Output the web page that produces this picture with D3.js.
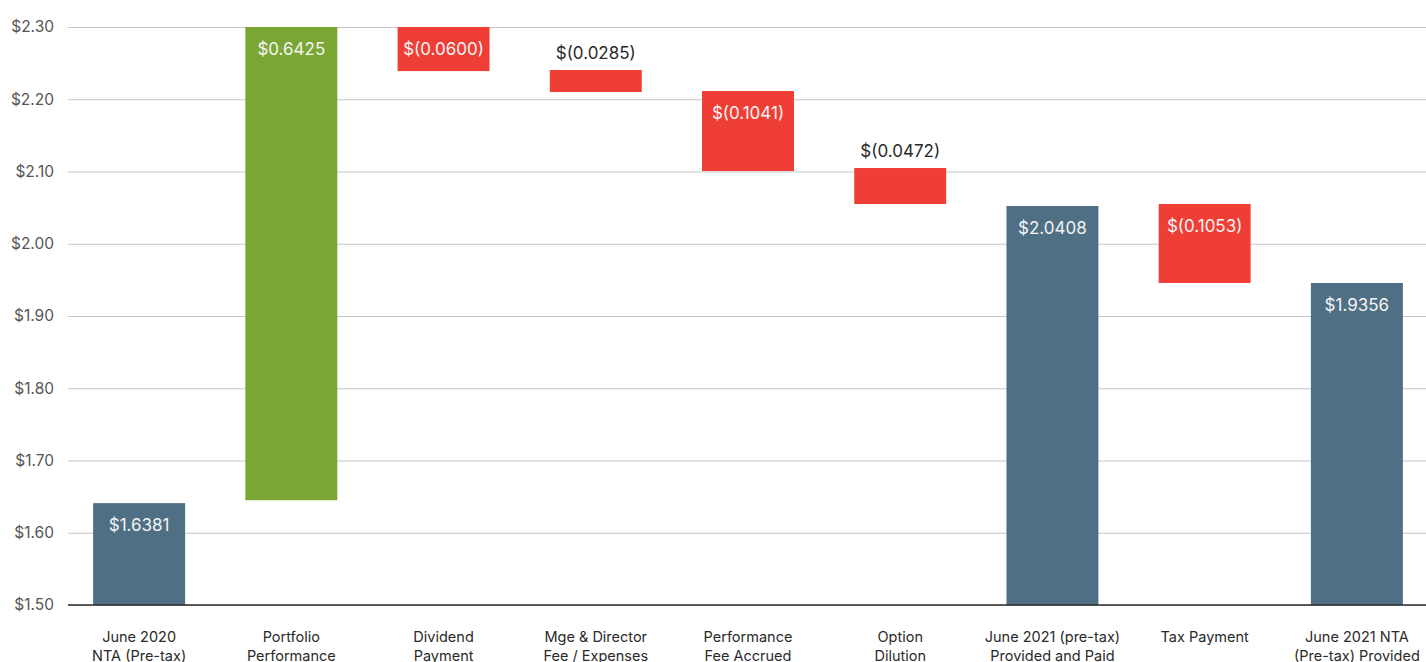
<!DOCTYPE html>
<html>
<head>
<meta charset="utf-8">
<script src="https://cdn.jsdelivr.net/npm/d3@7"></script>
<style>
  body { margin: 0; background: #fff; overflow: hidden; }
  svg { display: block; font-family: Inter, "Open Sans", sans-serif; }
</style>
</head>
<body>
<div id="chart"></div>
<script>
const width = 1426;
const height = 662;

// categories (two-line axis labels)
const categories = [
  ["June 2020", "NTA (Pre-tax)"],
  ["Portfolio", "Performance"],
  ["Dividend", "Payment"],
  ["Mge & Director", "Fee / Expenses"],
  ["Performance", "Fee Accrued"],
  ["Option", "Dilution"],
  ["June 2021 (pre-tax)", "Provided and Paid"],
  ["Tax Payment"],
  ["June 2021 NTA", "(Pre-tax) Provided"]
];
const valueLabels = ["$1.6381", "$0.6425", "$(0.0600)", "$(0.0285)", "$(0.1041)",
  "$(0.0472)", "$2.0408", "$(0.1053)", "$1.9356"];
// bar extents as drawn in the picture
const barFrom = [1.50, 1.645, 2.30, 2.2405, 2.2114, 2.1048, 1.50, 2.055, 1.50];
const barTo   = [1.641, 2.30, 2.239, 2.210, 2.1007, 2.055, 2.0523, 1.9457, 1.9457];
const barKind = ["total", "up", "down", "down", "down", "down", "total", "down", "total"];
const yTicks = [1.5, 1.6, 1.7, 1.8, 1.9, 2.0, 2.1, 2.2, 2.3];

const colors = { total: "#4f6f84", up: "#7aa734", down: "#ef3e36" };

const margin = { top: 27, left: 63, bottom: 57 };

const svg = d3.select("#chart")
  .append("svg")
  .attr("width", width)
  .attr("height", height);

const x = d3.scaleBand()
  .domain(d3.range(categories.length))
  .range([margin.left, 1433])
  .paddingInner(0.396)
  .paddingOuter(0.198);

const y = d3.scaleLinear()
  .domain([1.5, 2.3])
  .range([height - margin.bottom, margin.top]);

// gridlines + y labels
const yAxis = svg.append("g")
  .attr("transform", `translate(68,0)`)
  .call(d3.axisLeft(y).tickValues(yTicks).tickSize(-(width - 68)).tickFormat(d => "$" + d.toFixed(2)));
yAxis.select(".domain").remove();
yAxis.selectAll(".tick line").attr("stroke", "#c6c6ca").attr("stroke-width", 1.2);
yAxis.selectAll(".tick text")
  .attr("x", -14)
  .attr("fill", "#555")
  .style("font-size", "15.5px")
  .style("font-family", "Inter, sans-serif");

// bars
svg.selectAll(".bar")
  .data(categories)
  .enter()
  .append("rect")
  .attr("class", "bar")
  .attr("x", (d, i) => x(i))
  .attr("width", x.bandwidth())
  .attr("y", (d, i) => y(Math.max(barFrom[i], barTo[i])))
  .attr("height", (d, i) => Math.abs(y(barFrom[i]) - y(barTo[i])))
  .attr("fill", (d, i) => colors[barKind[i]]);

// baseline
svg.append("line")
  .attr("x1", 68).attr("x2", width)
  .attr("y1", y(1.5)).attr("y2", y(1.5))
  .attr("stroke", "#2b2b2b")
  .attr("stroke-width", 1.5);

// value labels: inside (white) for tall bars, above (dark) for short ones
svg.selectAll(".val")
  .data(valueLabels)
  .enter()
  .append("text")
  .attr("class", "val")
  .attr("x", (d, i) => x(i) + x.bandwidth() / 2)
  .attr("y", (d, i) => {
    const top = y(Math.max(barFrom[i], barTo[i]));
    const h = Math.abs(y(barFrom[i]) - y(barTo[i]));
    return h < 40 ? top - 17 : top + 22;
  })
  .attr("text-anchor", "middle")
  .attr("dominant-baseline", "central")
  .attr("fill", (d, i) => Math.abs(y(barFrom[i]) - y(barTo[i])) < 40 ? "#2a2a2a" : "#f4f4f4")
  .style("font-size", "17px")
  .text(d => d);

// x labels
const xl = svg.selectAll(".xl")
  .data(categories)
  .enter()
  .append("text")
  .attr("class", "xl")
  .attr("x", (d, i) => x(i) + x.bandwidth() / 2)
  .attr("y", 642)
  .attr("text-anchor", "middle")
  .attr("fill", "#2a2a2a")
  .style("font-size", "14.5px");
xl.selectAll("tspan")
  .data(d => d)
  .enter()
  .append("tspan")
  .attr("x", function () { return d3.select(this.parentNode).attr("x"); })
  .attr("dy", (d, i) => i === 0 ? 0 : 19)
  .text(d => d);
</script>
</body>
</html>
